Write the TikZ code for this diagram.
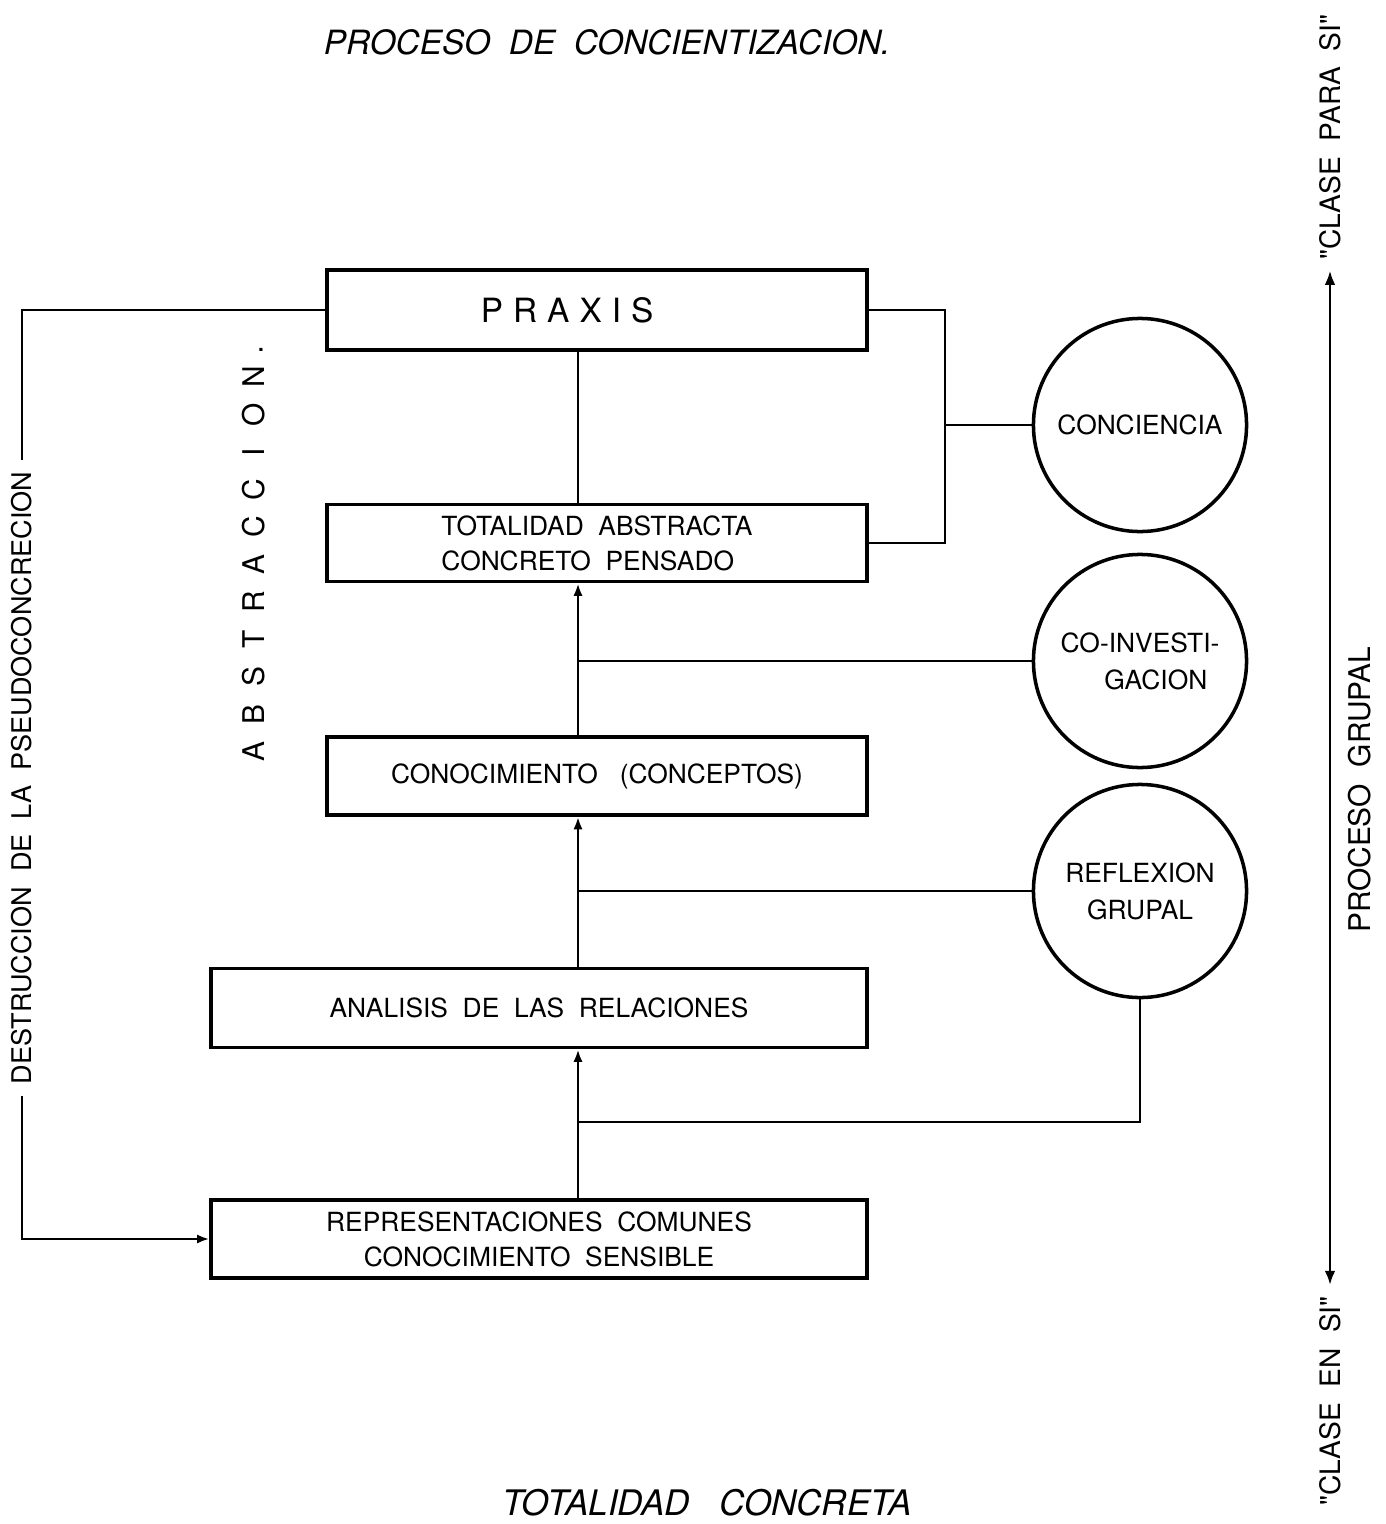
\documentclass[tikz,border=0pt]{standalone}
\usepackage{fontspec}
\setmainfont{TeX Gyre Heros}
\usetikzlibrary{arrows.meta}
\tikzset{
  stage/.style={draw,line width=1.1pt,inner sep=0pt,align=center,font=\fontsize{7.5}{10}\selectfont},
  ring/.style={draw,circle,line width=1pt,minimum size=2.13cm,inner sep=0pt,align=center,font=\fontsize{7.5}{10.5}\selectfont},
  link/.style={line width=0.7pt},
  tip/.style={link,-{Latex[length=3.5pt,width=2.6pt]}},
  side/.style={rotate=90,inner sep=3pt,font=\fontsize{7.7}{10}\selectfont},
  head/.style={font=\fontsize{9.5}{12}\selectfont\itshape}
}
\begin{document}
\begin{tikzpicture}[x=0.01cm,y=-0.01cm]
\useasboundingbox (0,0) rectangle (1386,1524);
\node[head] (title) at (607,42) {PROCESO\ \ DE\ \ CONCIENTIZACION.};
\node[head,font=\fontsize{10}{12}\selectfont\itshape] (base) at (707,1503) {TOTALIDAD\ \ \ CONCRETA};
\node[stage,minimum width=5.4cm,minimum height=0.8cm,font=\fontsize{9.5}{11}\selectfont] (praxis) at (597,310)
  {P\hspace{0.3em}R\hspace{0.3em}A\hspace{0.3em}X\hspace{0.3em}I\hspace{0.3em}S\hspace{17pt}};
\node[stage,minimum width=5.4cm,minimum height=0.77cm,align=left] (totab) at (597,543)
  {TOTALIDAD\ \ ABSTRACTA\\CONCRETO\ \ PENSADO};
\node[stage,minimum width=5.39cm,minimum height=0.78cm] (conoc) at (597,776) {CONOCIMIENTO\ \ \ (CONCEPTOS)};
\node[stage,minimum width=6.55cm,minimum height=0.79cm] (anal) at (539,1008) {ANALISIS\ \ DE\ \ LAS\ \ RELACIONES};
\node[stage,minimum width=6.55cm,minimum height=0.78cm] (repr) at (539,1239)
  {REPRESENTACIONES\ \ COMUNES\\CONOCIMIENTO\ \ SENSIBLE};
\node[ring] (consc) at (1140,425) {CONCIENCIA};
\node[ring] (coinv) at (1140,661) {CO-INVESTI-\\\hspace*{9pt}GACION};
\node[ring] (refl) at (1140,891) {REFLEXION\\GRUPAL};
\node[side] (destr) at (22,778) {DESTRUCCION\ \ DE\ \ LA\ \ PSEUDOCONCRECION};
\node[side,font=\fontsize{8.5}{10}\selectfont] (grupal) at (1360,790) {PROCESO\ \ GRUPAL};
\node[side,font=\fontsize{8}{10}\selectfont] (clpara) at (1330,137) {\textquotedbl CLASE\ \ PARA\ \ SI\textquotedbl};
\node[side,font=\fontsize{8}{10}\selectfont] (clen) at (1330,1401) {\textquotedbl CLASE\ \ EN\ \ SI\textquotedbl};
\foreach \c [count=\i] in {A,B,S,T,R,A,C,C,I,O,N}
  \node[rotate=90,font=\fontsize{8.5}{10}\selectfont] (abs\i) at (254,{752-37.5*(\i-1)}) {\c};
\node[font=\fontsize{8.5}{10}\selectfont] (absdot) at (261,350) {.};
\coordinate (spine) at (578,0);
\coordinate (rail) at (945,0);
\coordinate (fork) at (1140,1122);
\draw[link] (praxis.south -| spine) -- (totab.north -| spine);
\draw[tip] (conoc.north -| spine) -- (totab.south -| spine);
\draw[link] (spine |- coinv.west) -- (coinv.west);
\draw[tip] (anal.north -| spine) -- (conoc.south -| spine);
\draw[link] (spine |- refl.west) -- (refl.west);
\draw[tip] (repr.north -| spine) -- (anal.south -| spine);
\draw[link] (fork -| spine) -- (fork) -- (refl.south);
\draw[link] (praxis.east) -- (praxis.east -| rail) -- (totab.east -| rail) -- (totab.east);
\draw[link] (rail |- consc.west) -- (consc.west);
\draw[link] (praxis.west) -- (praxis.west -| destr) -- (destr.east);
\draw[tip] (destr.west) -- (destr.west |- repr.west) -- (repr.west);
\draw[link,{Latex[length=4pt,width=3pt]}-{Latex[length=4pt,width=3pt]}] (clen.east) -- (clpara.west);
\end{tikzpicture}
\end{document}
